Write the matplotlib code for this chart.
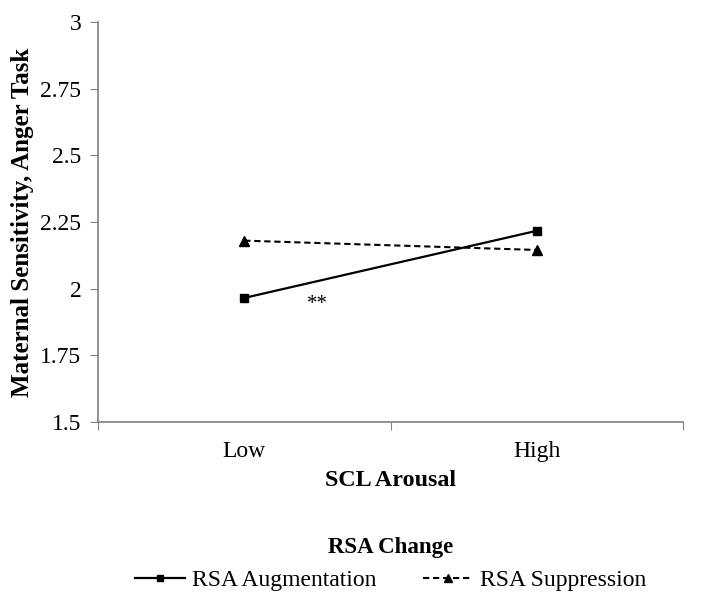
import matplotlib.pyplot as plt

plt.rcParams['font.family'] = ['Liberation Serif', 'DejaVu Serif']

categories = ["Low", "High"]
augmentation = [1.965, 2.217]
suppression = [2.18, 2.145]
y_ticks = [1.5, 1.75, 2, 2.25, 2.5, 2.75, 3]
y_ticklabels = ["1.5", "1.75", "2", "2.25", "2.5", "2.75", "3"]

fig = plt.figure(figsize=(7.14, 6.0), dpi=100)
ax = fig.add_axes([0.1373, 0.297, 0.8193, 0.666])

x = [0.5, 1.5]
ax.plot(x, augmentation, color="black", lw=1.6, ls="-",
        marker="s", ms=6, label="RSA Augmentation")
ax.plot(x, suppression, color="black", lw=1.5, ls=(0, (3, 1.8)),
        marker="^", ms=7, label="RSA Suppression")
ax.text(0.75, 1.94, "**", fontsize=15, ha="center", va="center")

ax.set_xlim(0, 2)
ax.set_ylim(1.5, 3)
ax.set_yticks(y_ticks)
ax.set_yticklabels(y_ticklabels)
ax.set_xticks([0, 1, 2])
ax.set_xticklabels([])
ax.set_xticks(x, minor=True)
ax.set_xticklabels(categories, minor=True)
ax.tick_params(axis="x", which="minor", length=0, pad=14, labelsize=17)
ax.tick_params(axis="x", which="major", length=6, color="#808080", direction="out")
ax.tick_params(axis="y", length=6, color="#808080", direction="out", labelsize=17, pad=6)

for side in ["top", "right"]:
    ax.spines[side].set_visible(False)
for side in ["left", "bottom"]:
    ax.spines[side].set_color("#808080")
    ax.spines[side].set_linewidth(1.2)

ax.set_xlabel("SCL Arousal", fontsize=17.3, fontweight="bold")
ax.xaxis.set_label_coords(0.5, -0.12)
ax.set_ylabel("Maternal Sensitivity, Anger Task", fontsize=18, fontweight="bold")
ax.yaxis.set_label_coords(-0.11, 0.5)

leg = fig.legend(loc="center", bbox_to_anchor=(0.547, 0.06), ncol=2, frameon=False,
                 title="RSA Change", fontsize=17, handlelength=2.1, handletextpad=0.3,
                 columnspacing=2.0, markerscale=0.75)
leg.get_title().set_fontweight("bold")
leg.get_title().set_fontsize(16.5)

fig.savefig("out.png", dpi=100)
